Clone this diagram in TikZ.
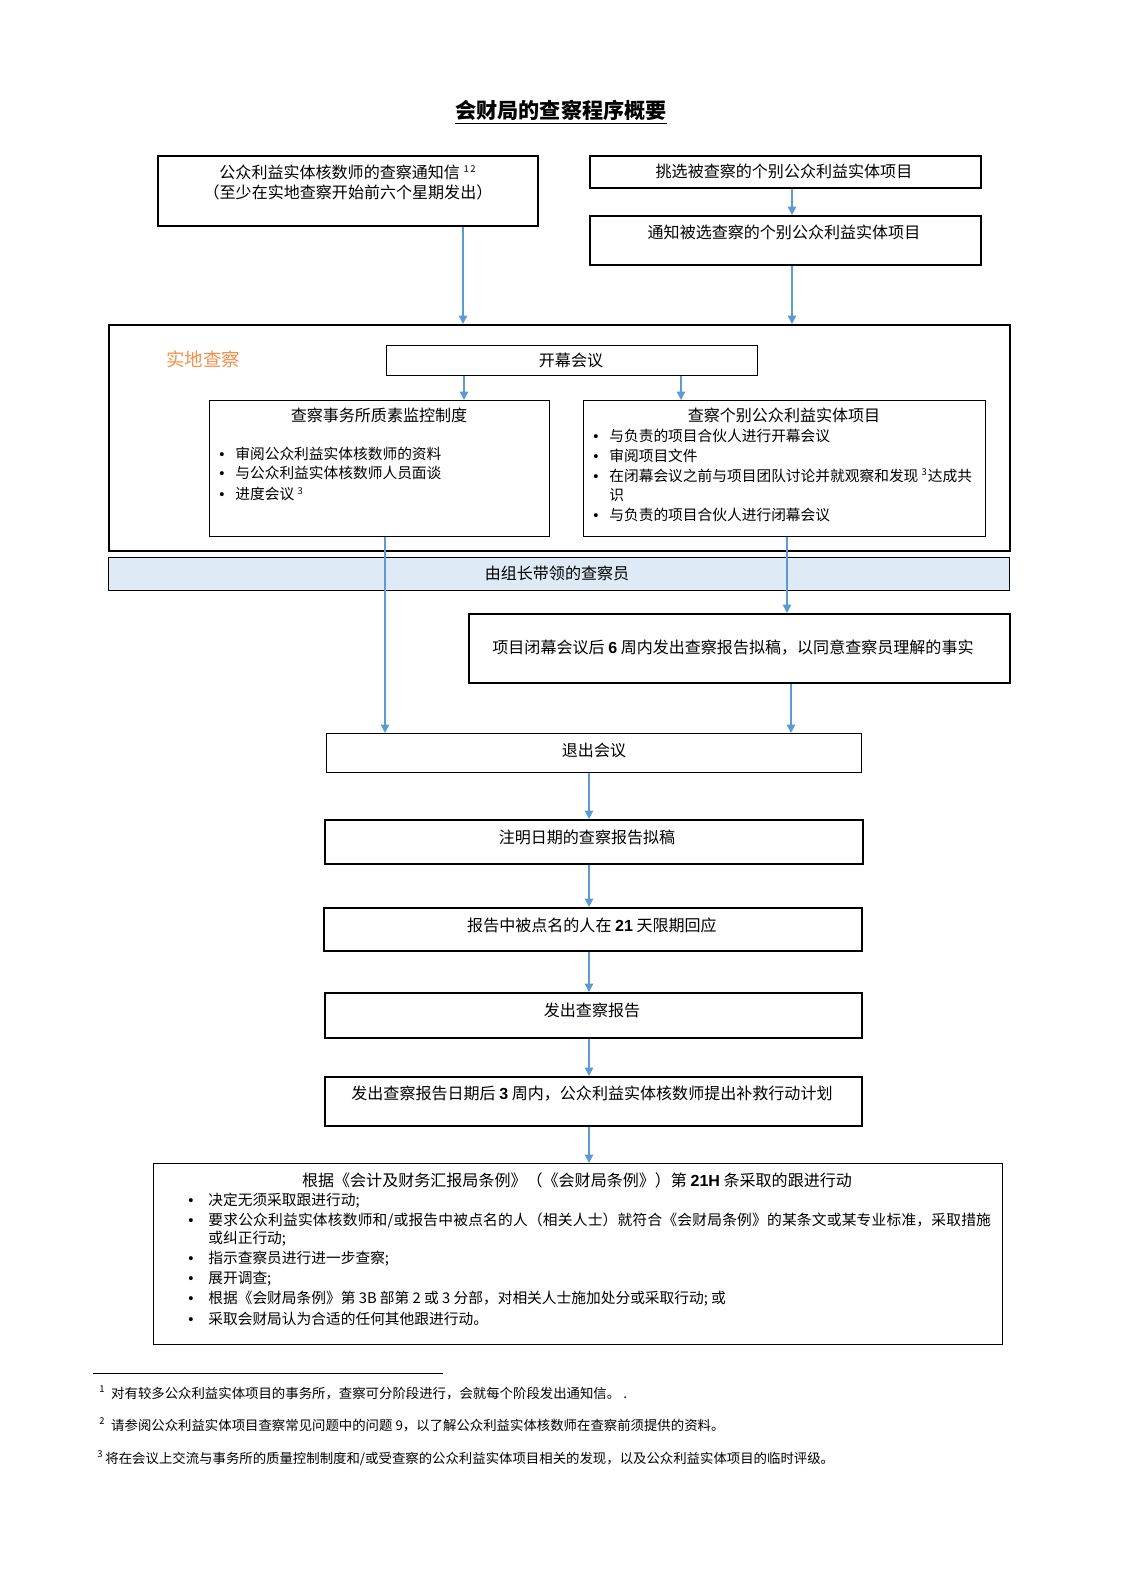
\documentclass[tikz,border=0pt]{standalone}
\usepackage{fontspec}
\setmainfont{Noto Sans CJK SC}
\newfontfamily\latb{Liberation Sans}
\usetikzlibrary{arrows.meta}
\definecolor{arr}{HTML}{5B9BD5}
\definecolor{bandfill}{HTML}{DEEAF6}
\definecolor{orng}{HTML}{F4904A}
\newcommand\nb[1]{{\latb\bfseries #1}}
\newcommand\sups[1]{\textsuperscript{\fontsize{5pt}{5pt}\selectfont #1}}
\newcommand\bul[1]{\makebox[#1\dimexpr0.53pt][l]{\latb •}}
\newcommand\rbox[6]{\node[#6, minimum width={(#4-#2)*0.53pt}, minimum height={(#5-#3)*0.53pt}, inner sep=0, anchor=north west] (#1) at (#2,#3) {};}
\begin{document}
\begin{tikzpicture}[x=0.53pt,y=-0.53pt,
  thickbox/.style={draw, line width=1.1pt},
  thinbox/.style={draw, line width=0.55pt},
  flow/.style={draw=arr, line width=0.8pt, -{Triangle[length=4.5pt,width=4.5pt]}},
  ttl/.style={inner sep=0, font=\fontsize{8.5pt}{10.6pt}\selectfont, align=center},
  ft/.style={inner sep=0, anchor=west, font=\fontsize{7.1pt}{9pt}\selectfont},
  bl/.style={inner sep=0, anchor=west, font=\fontsize{7.8pt}{10pt}\selectfont}]
\useasboundingbox (0,0) rectangle (1123,1587);

% title
\node[inner sep=0, font=\fontsize{11.2pt}{13pt}\selectfont\bfseries] (title) at (561,110) {会财局的查察程序概要};
\draw[line width=0.6pt] ([yshift=-1.5pt]title.south west) -- ([yshift=-1.5pt]title.south east);

% top boxes
\rbox{b1}{157}{155}{537}{225}{thickbox}
\node[ttl] (t1) at (348,182) {公众利益实体核数师的查察通知信 \sups{1\,2}\\（至少在实地查察开始前六个星期发出）};
\rbox{b2}{589}{155}{980}{187}{thickbox}
\node[ttl] (t2) at (784,171) {挑选被查察的个别公众利益实体项目};
\rbox{b3}{589}{215}{980}{264}{thickbox}
\node[ttl] (t3) at (784,232) {通知被选查察的个别公众利益实体项目};

% field inspection frame
\rbox{field}{108}{324}{1009}{550}{thickbox}
\node[inner sep=0, text=orng, font=\fontsize{9.8pt}{12pt}\selectfont] (fieldlbl) at (203,359) {实地查察};
\rbox{open}{386}{345}{757}{375}{thinbox}
\node[ttl] (topen) at (571,360) {开幕会议};

\rbox{lbox}{209}{400}{549}{536}{thinbox}
\node[ttl] (tl) at (379,415) {查察事务所质素监控制度};
\node[bl] (l1) at (219,454) {\bul{16}审阅公众利益实体核数师的资料};
\node[bl] (l2) at (219,473) {\bul{16}与公众利益实体核数师人员面谈};
\node[bl] (l3) at (219,494) {\bul{16}进度会议 \sups{3}};

\rbox{rbox}{583}{400}{985}{536}{thinbox}
\node[ttl] (tr) at (784,415) {查察个别公众利益实体项目};
\node[bl] (r1) at (593,436) {\bul{16}与负责的项目合伙人进行开幕会议};
\node[bl] (r2) at (593,456) {\bul{16}审阅项目文件};
\node[bl] (r3) at (593,475.5) {\bul{16}在闭幕会议之前与项目团队讨论并就观察和发现 \sups{3}达成共};
\node[bl] (r3b) at (593,495) {\hspace*{16\dimexpr0.53pt}识};
\node[bl] (r4) at (593,515) {\bul{16}与负责的项目合伙人进行闭幕会议};

% band
\rbox{band}{108}{557}{1009}{590}{thinbox, fill=bandfill}
\node[ttl] (tband) at (557,573) {由组长带领的查察员};

% closing draft box
\rbox{close}{468}{613}{1009}{682}{thickbox}
\node[ttl] (tclose) at (733,648) {项目闭幕会议后 \nb{6} 周内发出查察报告拟稿，以同意查察员理解的事实};

% vertical flow
\rbox{exit}{326}{733}{861}{772}{thinbox}
\node[ttl] (texit) at (594,750) {退出会议};
\rbox{date}{324}{819}{862}{863}{thickbox}
\node[ttl] (tdate) at (587,837) {注明日期的查察报告拟稿};
\rbox{resp}{323}{907}{861}{950}{thickbox}
\node[ttl] (tresp) at (592,925) {报告中被点名的人在 \nb{21} 天限期回应};
\rbox{issue}{324}{992}{861}{1037}{thickbox}
\node[ttl] (tissue) at (592,1010) {发出查察报告};
\rbox{remedy}{324}{1076}{861}{1125}{thickbox}
\node[ttl] (tremedy) at (592,1094) {发出查察报告日期后 \nb{3} 周内，公众利益实体核数师提出补救行动计划};

% final box
\rbox{final}{153}{1163}{1002}{1344}{thinbox}
\node[ttl] (tfinal) at (577,1180) {根据《会计及财务汇报局条例》（《会财局条例》）第 \nb{21H} 条采取的跟进行动};
\node[bl] (f1) at (188,1201) {\bul{20}决定无须采取跟进行动;};
\node[bl] (f2) at (188,1221) {\bul{20}{\addfontfeature{LetterSpace=1.5}要求公众利益实体核数师和/或报告中被点名的人（相关人士）就符合《会财局条例》的某条文或某专业标准，采取措施}};
\node[bl] (f2b) at (188,1239) {\hspace*{20\dimexpr0.53pt}或纠正行动;};
\node[bl] (f3) at (188,1259) {\bul{20}指示查察员进行进一步查察;};
\node[bl] (f4) at (188,1279) {\bul{20}展开调查;};
\node[bl] (f5) at (188,1299) {\bul{20}根据《会财局条例》第 3B 部第 2 或 3 分部，对相关人士施加处分或采取行动; 或};
\node[bl] (f6) at (188,1319) {\bul{20}采取会财局认为合适的任何其他跟进行动。};

% footnotes
\coordinate (fr1) at (93,1373);
\coordinate (fr2) at (443,1373);
\draw[line width=0.5pt] (fr1) -- (fr2);
\node[ft] (fn1) at (99,1393) {\sups{1}\hspace{3pt}对有较多公众利益实体项目的事务所，查察可分阶段进行，会就每个阶段发出通知信。 .};
\node[ft] (fn2) at (99,1425) {\sups{2}\hspace{3pt}请参阅公众利益实体项目查察常见问题中的问题 9，以了解公众利益实体核数师在查察前须提供的资料。};
\node[ft] (fn3) at (97,1458) {\sups{3}\hspace{1pt}将在会议上交流与事务所的质量控制制度和/或受查察的公众利益实体项目相关的发现，以及公众利益实体项目的临时评级。};

% connector x positions
\coordinate (x463) at (463,0);
\coordinate (x792) at (792,0);
\coordinate (x464) at (464,0);
\coordinate (x681) at (681,0);
\coordinate (x385) at (385,0);
\coordinate (x787) at (787,0);
\coordinate (x791) at (791,0);
\coordinate (x589) at (589,0);

\draw[flow] (b1.south -| x463) -- (field.north -| x463);
\draw[flow] (b2.south -| x792) -- (b3.north -| x792);
\draw[flow] (b3.south -| x792) -- (field.north -| x792);
\draw[flow] (open.south -| x464) -- (lbox.north -| x464);
\draw[flow] (open.south -| x681) -- (rbox.north -| x681);
\draw[flow] (lbox.south -| x385) -- (exit.north -| x385);
\draw[flow] (rbox.south -| x787) -- (close.north -| x787);
\draw[flow] (close.south -| x791) -- (exit.north -| x791);
\draw[flow] (exit.south -| x589) -- (date.north -| x589);
\draw[flow] (date.south -| x589) -- (resp.north -| x589);
\draw[flow] (resp.south -| x589) -- (issue.north -| x589);
\draw[flow] (issue.south -| x589) -- (remedy.north -| x589);
\draw[flow] (remedy.south -| x589) -- (final.north -| x589);
\end{tikzpicture}
\end{document}
